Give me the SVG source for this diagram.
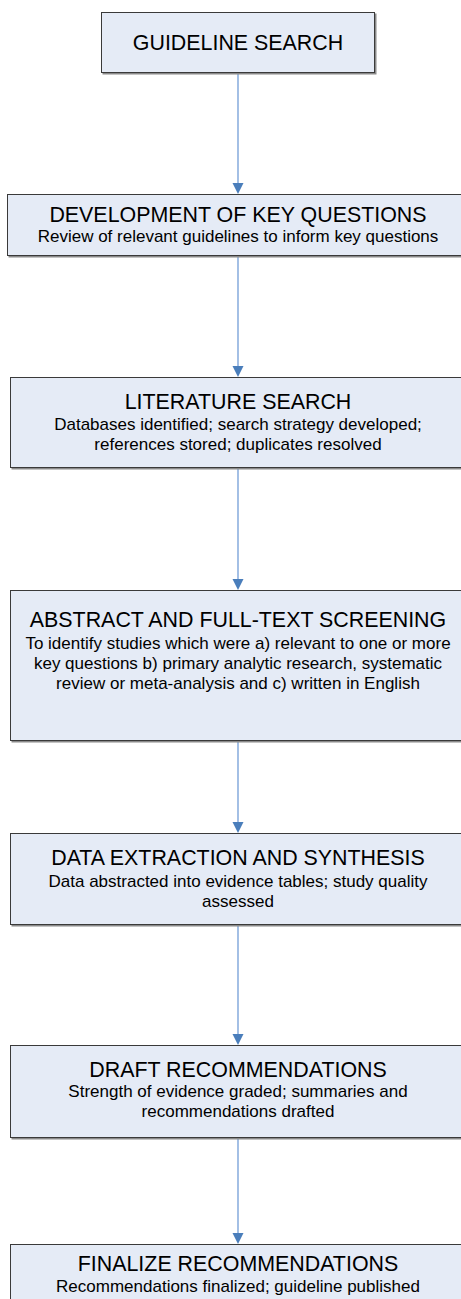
<svg xmlns="http://www.w3.org/2000/svg" width="461" height="1299" viewBox="0 0 461 1299">
<style>
.box{fill:#E5EBF6;stroke:#3a3a3a;stroke-width:1}
.shadow{fill:#8a8a8a}
.t{font-family:"Liberation Sans",Arial,sans-serif;font-size:21.4px;fill:#000;text-anchor:middle}
.s{font-family:"Liberation Sans",Arial,sans-serif;font-size:17px;fill:#000;text-anchor:middle}
.c{stroke:#8DB0DF;stroke-width:1.6;fill:none}
.h{fill:#4A7EBB}
</style>
<rect width="461" height="1299" fill="#fff"/>
<g id="connectors">
<line class="c" x1="238" y1="74" x2="238" y2="185"/><path class="h" d="M232.5,183 L243.5,183 L238,194 Z"/>
<line class="c" x1="238" y1="257" x2="238" y2="368"/><path class="h" d="M232.5,366 L243.5,366 L238,377 Z"/>
<line class="c" x1="238" y1="469" x2="238" y2="581"/><path class="h" d="M232.5,579 L243.5,579 L238,590 Z"/>
<line class="c" x1="238" y1="742" x2="238" y2="824"/><path class="h" d="M232.5,822 L243.5,822 L238,833 Z"/>
<line class="c" x1="238" y1="926" x2="238" y2="1036"/><path class="h" d="M232.5,1034 L243.5,1034 L238,1045 Z"/>
<line class="c" x1="238" y1="1139" x2="238" y2="1235"/><path class="h" d="M232.5,1233 L243.5,1233 L238,1244 Z"/>
</g>
<g id="n1">
<rect class="shadow" x="102.5" y="13.5" width="274" height="61"/>
<rect class="box" x="101.5" y="12.5" width="273" height="60"/>
<text class="t" x="238" y="50">GUIDELINE SEARCH</text>
</g>
<g id="n2">
<rect class="shadow" x="8.5" y="195.5" width="462" height="62"/>
<rect class="box" x="7.5" y="194.5" width="461" height="61"/>
<text class="t" x="238" y="222">DEVELOPMENT OF KEY QUESTIONS</text>
<text class="s" x="238" y="242">Review of relevant guidelines to inform key questions</text>
</g>
<g id="n3">
<rect class="shadow" x="11.5" y="378.5" width="456" height="91"/>
<rect class="box" x="10.5" y="377.5" width="456" height="90"/>
<text class="t" x="238" y="409">LITERATURE SEARCH</text>
<text class="s" x="238" y="430">Databases identified; search strategy developed;</text>
<text class="s" x="238" y="450">references stored; duplicates resolved</text>
</g>
<g id="n4">
<rect class="shadow" x="11.5" y="591.5" width="456" height="151"/>
<rect class="box" x="10.5" y="590.5" width="456" height="150"/>
<text class="t" x="238" y="627">ABSTRACT AND FULL-TEXT SCREENING</text>
<text class="s" x="238" y="649">To identify studies which were a) relevant to one or more</text>
<text class="s" x="238" y="669">key questions b) primary analytic research, systematic</text>
<text class="s" x="238" y="688.5">review or meta-analysis and c) written in English</text>
</g>
<g id="n5">
<rect class="shadow" x="11.5" y="834.5" width="456" height="92"/>
<rect class="box" x="10.5" y="833.5" width="456" height="91"/>
<text class="t" x="238" y="865">DATA EXTRACTION AND SYNTHESIS</text>
<text class="s" x="238" y="887">Data abstracted into evidence tables; study quality</text>
<text class="s" x="238" y="907">assessed</text>
</g>
<g id="n6">
<rect class="shadow" x="11.5" y="1046.5" width="456" height="93"/>
<rect class="box" x="10.5" y="1045.5" width="456" height="92"/>
<text class="t" x="238" y="1077">DRAFT RECOMMENDATIONS</text>
<text class="s" x="238" y="1097">Strength of evidence graded; summaries and</text>
<text class="s" x="238" y="1117">recommendations drafted</text>
</g>
<g id="n7">
<rect class="shadow" x="11.5" y="1245.5" width="456" height="70"/>
<rect class="box" x="10.5" y="1244.5" width="456" height="70"/>
<text class="t" x="238" y="1271">FINALIZE RECOMMENDATIONS</text>
<text class="s" x="238" y="1292">Recommendations finalized; guideline published</text>
</g>
</svg>
